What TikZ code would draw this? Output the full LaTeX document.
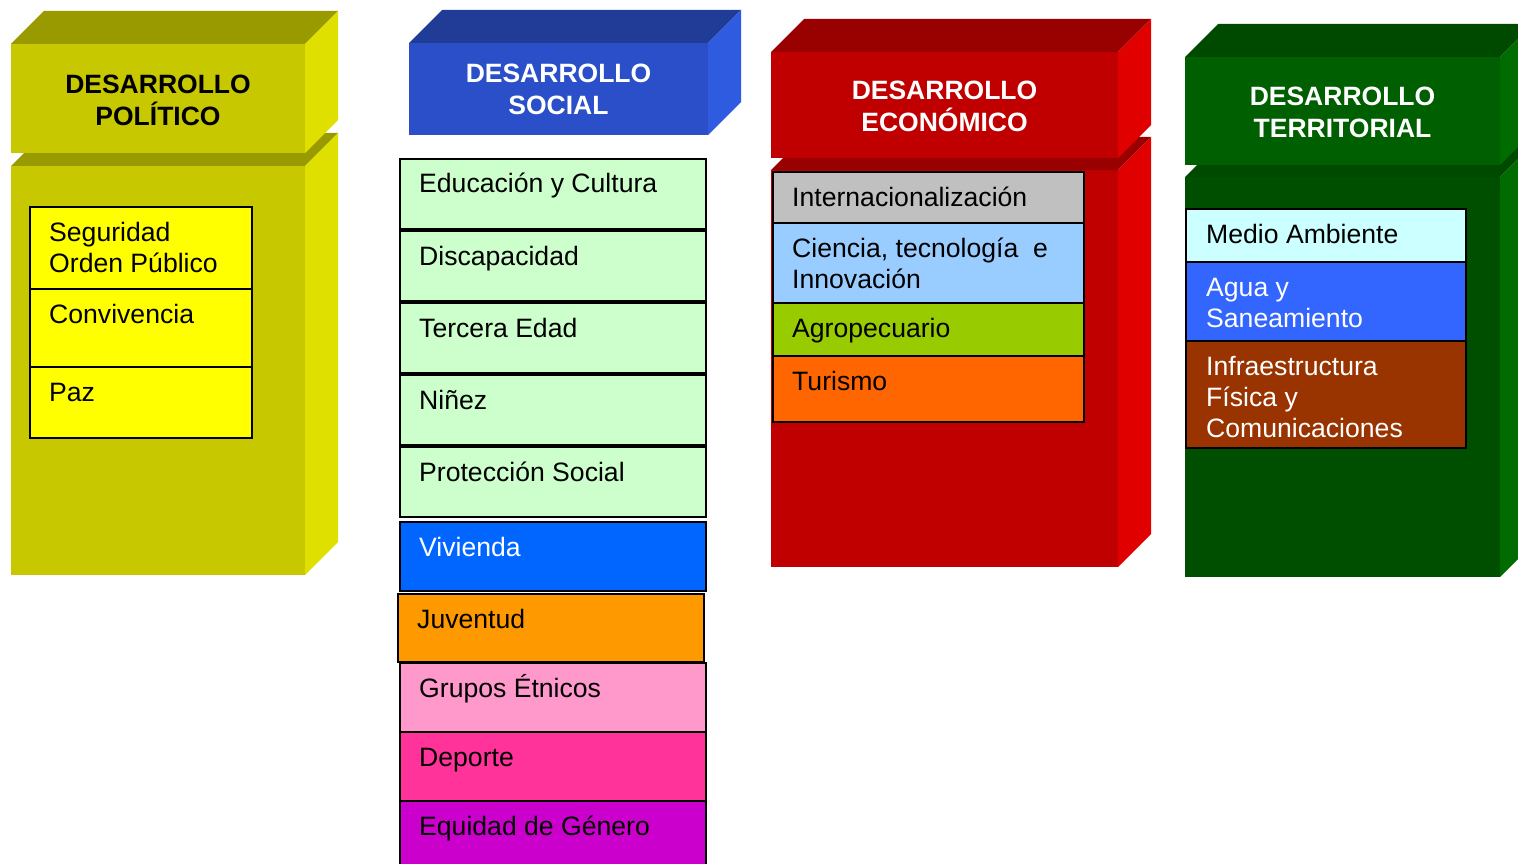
\documentclass[tikz,border=0pt]{standalone}
\usepackage{fontspec}
\setmainfont{Liberation Sans}
\usetikzlibrary{positioning}

\definecolor{polfront}{HTML}{C8C800}
\definecolor{poltop}{HTML}{999900}
\definecolor{polside}{HTML}{E0E000}
\definecolor{socfront}{HTML}{2A4FC8}
\definecolor{soctop}{HTML}{213C96}
\definecolor{socside}{HTML}{2F5BE0}
\definecolor{ecofront}{HTML}{C00000}
\definecolor{ecotop}{HTML}{990000}
\definecolor{ecoside}{HTML}{E00000}
\definecolor{terfront}{HTML}{005F00}
\definecolor{terbody}{HTML}{004F00}
\definecolor{tertop}{HTML}{004A00}
\definecolor{terside}{HTML}{006C00}

% block: x, y, width, height, depth, front, top, side
\newcommand{\block}[8]{%
  \fill[#6] (#1,#2) rectangle ++(#3,#4);
  \fill[#7] (#1,#2) -- ++(#5,-#5) -- ++(#3,0) -- ++(-#5,#5) -- cycle;
  \fill[#8] (#1+#3,#2) -- ++(#5,-#5) -- ++(0,#4) -- ++(-#5,#5) -- cycle;
}

\begin{document}
\begin{tikzpicture}[
    x=1pt, y=-1pt,
    head/.style={align=center, font=\fontsize{26.5}{32}\selectfont\bfseries},
    item/.style={draw=black, line width=2pt, anchor=north west, inner sep=0pt},
    itemtext/.style={anchor=base west, inner sep=0pt, align=left,
        font=\fontsize{26.6}{31}\selectfont}
]
\useasboundingbox (0,0) rectangle (1518,864);
\clip (0,0) rectangle (1518,864);

% political
\block{11}{166}{294}{409}{33}{polfront}{poltop}{polside}
\block{11}{44}{294}{109}{33}{polfront}{poltop}{polside}
\node[head] (hpol) at (158,100.5) {DESARROLLO\\POLÍTICO};

\node[item, fill={rgb,255:red,255;green,255;blue,0}, minimum width=222, minimum height=82] (pseg) at (29,206) {};
\node[item, fill={rgb,255:red,255;green,255;blue,0}, minimum width=222, minimum height=78] (pcon) at (29,288) {};
\node[item, fill={rgb,255:red,255;green,255;blue,0}, minimum width=222, minimum height=71] (ppaz) at (29,366) {};
% multi-line texts sit on their last line
\node[itemtext] at ([shift={(20,66)}]pseg.north west) {Seguridad\\Orden Público};
\node[itemtext] at ([shift={(20,35)}]pcon.north west) {Convivencia};
\node[itemtext] at ([shift={(20,35)}]ppaz.north west) {Paz};

% social
\block{409}{43}{299}{92}{33}{socfront}{soctop}{socside}
\node[head, text=white] (hsoc) at (558.5,89) {DESARROLLO\\SOCIAL};

\node[item, fill={rgb,255:red,204;green,255;blue,204}, minimum width=306, minimum height=70] (sedu) at (399,158) {};
\node[item, fill={rgb,255:red,204;green,255;blue,204}, minimum width=306, minimum height=70] (sdis) at (399,230) {};
\node[item, fill={rgb,255:red,204;green,255;blue,204}, minimum width=306, minimum height=70] (ster) at (399,302) {};
\node[item, fill={rgb,255:red,204;green,255;blue,204}, minimum width=306, minimum height=70] (snin) at (399,374) {};
\node[item, fill={rgb,255:red,204;green,255;blue,204}, minimum width=306, minimum height=70] (spro) at (399,446) {};
\node[item, fill={rgb,255:red,0;green,102;blue,255}, minimum width=306, minimum height=69] (sviv) at (399,521) {};
\node[item, fill={rgb,255:red,255;green,153;blue,0}, minimum width=306, minimum height=68] (sjuv) at (397,593) {};
\node[item, fill={rgb,255:red,255;green,153;blue,204}, minimum width=306, minimum height=69] (sgru) at (399,662) {};
\node[item, fill={rgb,255:red,255;green,51;blue,153}, minimum width=306, minimum height=69] (sdep) at (399,731) {};
\node[item, fill={rgb,255:red,204;green,0;blue,204}, minimum width=306, minimum height=80] (sequ) at (399,800) {};
\node[itemtext] at ([shift={(20,35)}]sedu.north west) {Educación y Cultura};
\node[itemtext] at ([shift={(20,35)}]sdis.north west) {Discapacidad};
\node[itemtext] at ([shift={(20,35)}]ster.north west) {Tercera Edad};
\node[itemtext] at ([shift={(20,35)}]snin.north west) {Niñez};
\node[itemtext] at ([shift={(20,35)}]spro.north west) {Protección Social};
\node[itemtext, text=white] at ([shift={(20,35)}]sviv.north west) {Vivienda};
\node[itemtext] at ([shift={(20,35)}]sjuv.north west) {Juventud};
\node[itemtext] at ([shift={(20,35)}]sgru.north west) {Grupos Étnicos};
\node[itemtext] at ([shift={(20,35)}]sdep.north west) {Deporte};
\node[itemtext] at ([shift={(20,35)}]sequ.north west) {Equidad de Género};

% economic
\block{771}{170}{347}{397}{33}{ecofront}{ecotop}{ecoside}
\block{771}{52}{347}{106}{33}{ecofront}{ecotop}{ecoside}
\node[head, text=white] (heco) at (944.5,106) {DESARROLLO\\ECONÓMICO};

\node[item, fill={rgb,255:red,192;green,192;blue,192}, minimum width=311, minimum height=51] (eint) at (772,171) {};
\node[item, fill={rgb,255:red,153;green,204;blue,255}, minimum width=311, minimum height=80] (ecie) at (772,222) {};
\node[item, fill={rgb,255:red,153;green,204;blue,0}, minimum width=311, minimum height=53] (eagr) at (772,302) {};
\node[item, fill={rgb,255:red,255;green,102;blue,0}, minimum width=311, minimum height=66] (etur) at (772,355) {};
\node[itemtext] at ([shift={(20,35)}]eint.north west) {Internacionalización};
\node[itemtext] at ([shift={(20,66)}]ecie.north west) {Ciencia, tecnología \ e\\Innovación};
\node[itemtext] at ([shift={(20,35)}]eagr.north west) {Agropecuario};
\node[itemtext] at ([shift={(20,35)}]etur.north west) {Turismo};

% territorial
\block{1185}{177}{315}{400}{33}{terbody}{tertop}{terside}
\block{1185}{57}{315}{108}{33}{terfront}{tertop}{terside}
\node[head, text=white] (hter) at (1342.5,112) {DESARROLLO\\TERRITORIAL};

\node[item, fill={rgb,255:red,204;green,255;blue,255}, minimum width=280, minimum height=53] (tmed) at (1185,208) {};
\node[item, fill={rgb,255:red,51;green,102;blue,255}, minimum width=280, minimum height=79] (tagu) at (1185,261) {};
\node[item, fill={rgb,255:red,153;green,51;blue,0}, minimum width=280, minimum height=107] (tinf) at (1185,340) {};
\node[itemtext] at ([shift={(21,35)}]tmed.north west) {Medio Ambiente};
\node[itemtext, text=white] at ([shift={(21,66)}]tagu.north west) {Agua y\\Saneamiento};
\node[itemtext, text=white] at ([shift={(21,97)}]tinf.north west) {Infraestructura\\Física y\\Comunicaciones};

\end{tikzpicture}
\end{document}
